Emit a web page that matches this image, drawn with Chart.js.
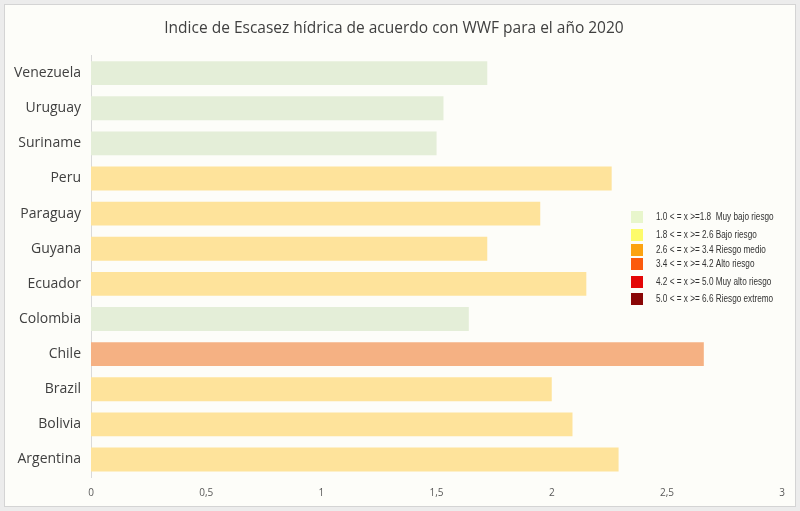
<!DOCTYPE html>
<html>
<head>
<meta charset="utf-8">
<script src="https://cdn.jsdelivr.net/npm/chart.js@4.4.1/dist/chart.umd.min.js"></script>
<style>
  html, body { margin: 0; padding: 0; background: #ececec; }
  #box {
    position: absolute; left: 4px; top: 4px;
    width: 790px; height: 501px;
    background: #fdfdf9; border: 1px solid #d4d4d4;
  }
  #box canvas { display: block; }
</style>
</head>
<body>
<div id="box"><canvas id="chart" width="790" height="501"></canvas></div>
<script>
// datos
const paises = ['Venezuela', 'Uruguay', 'Suriname', 'Peru', 'Paraguay', 'Guyana',
                'Ecuador', 'Colombia', 'Chile', 'Brazil', 'Bolivia', 'Argentina'];
const indice = [1.72, 1.53, 1.50, 2.26, 1.95, 1.72, 2.15, 1.64, 2.66, 2.00, 2.09, 2.29];
const colorBarra = ['#e4eed8', '#e4eed8', '#e4eed8', '#fee39b', '#fee39b', '#fee39b',
                    '#fee39b', '#e4eed8', '#f5b183', '#fee39b', '#fee39b', '#fee39b'];

// leyenda de rangos (dibujada a mano)
const rangos = ['1.0 < = x >=1.8  Muy bajo riesgo', '1.8 < = x >= 2.6 Bajo riesgo',
                '2.6 < = x >= 3.4 Riesgo medio', '3.4 < = x >= 4.2 Alto riesgo',
                '4.2 < = x >= 5.0 Muy alto riesgo', '5.0 < = x >= 6.6 Riesgo extremo'];
const colorRango = ['#e8f6cc', '#fdfb6a', '#fca311', '#fb5a0c', '#e40606', '#8a0606'];
const filaRango = [216, 234, 249, 263, 281, 298];

const leyendaRangos = {
    id: 'leyendaRangos',
    afterDraw(chart) {
        const ctx = chart.ctx;
        ctx.save();
        ctx.textBaseline = 'middle';
        rangos.forEach((txt, i) => {
            const y = filaRango[i] - 4;
            ctx.fillStyle = colorRango[i];
            ctx.fillRect(626, y - 6, 12, 12);
            // texto estrecho, tipo Arial Narrow
            ctx.save();
            ctx.translate(651, y);
            ctx.scale(0.82, 1);
            ctx.font = '10px "Liberation Sans", sans-serif';
            ctx.fillStyle = '#333333';
            ctx.fillText(txt, 0, 0);
            ctx.restore();
        });
        ctx.restore();
    }
};

new Chart(document.getElementById('chart'), {
    type: 'bar',
    data: {
        labels: paises,
        datasets: [{
            data: indice,
            backgroundColor: colorBarra,
            barPercentage: 0.68,
            categoryPercentage: 1
        }]
    },
    options: {
        indexAxis: 'y',
        responsive: false,
        animation: false,
        layout: { padding: { left: 0, right: 12, top: 0, bottom: -3 } },
        plugins: {
            legend: { display: false },
            tooltip: { enabled: false },
            title: {
                display: true,
                text: 'Indice de Escasez hídrica de acuerdo con WWF para el año 2020',
                color: '#404040',
                font: { family: '"Open Sans", sans-serif', size: 15.5, weight: 'normal' },
                padding: { top: 14, bottom: 18 }
            }
        },
        scales: {
            x: {
                min: 0, max: 3,
                ticks: {
                    stepSize: 0.5,
                    color: '#595959',
                    font: { family: '"Open Sans", sans-serif', size: 10 },
                    callback: v => String(v).replace('.', ','),
                    padding: 10
                },
                grid: { display: false, drawTicks: false },
                border: { display: false }
            },
            y: {
                afterFit(scale) { scale.width = 86; },
                ticks: {
                    color: '#404040',
                    font: { family: '"Open Sans", sans-serif', size: 14 },
                    padding: 10
                },
                grid: { display: false, drawTicks: false },
                border: { display: true, color: '#d9d9d9' }
            }
        }
    },
    plugins: [leyendaRangos]
});
</script>
</body>
</html>
